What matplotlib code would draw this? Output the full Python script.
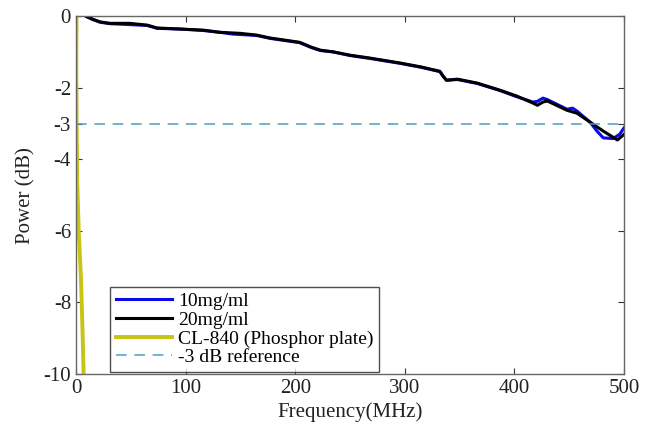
import matplotlib
matplotlib.use("Agg")
import matplotlib.pyplot as plt

# 20 mg/ml (black)
f20 = [9, 15, 22, 31, 49, 65, 74, 95, 116, 131, 150, 165, 177, 204, 215, 223, 235,
       250, 268, 296, 315, 332, 335, 338, 348, 366, 387, 402, 417, 421, 426, 430,
       448, 457, 469, 481, 494, 500]
p20 = [0, -0.08, -0.16, -0.2, -0.2, -0.25, -0.33, -0.36, -0.39, -0.45, -0.48, -0.53,
       -0.61, -0.73, -0.87, -0.95, -1.0, -1.09, -1.17, -1.31, -1.42, -1.54, -1.68,
       -1.79, -1.76, -1.87, -2.07, -2.23, -2.43, -2.49, -2.4, -2.37, -2.63, -2.71,
       -2.96, -3.21, -3.46, -3.3]

# 10 mg/ml (blue)
f10 = [10, 15, 22, 31, 45, 65, 74, 95, 116, 131, 143, 165, 177, 204, 215, 223, 235,
       250, 268, 296, 315, 332, 335, 338, 348, 366, 387, 402, 417, 421, 426, 430,
       448, 453, 457, 469, 475, 481, 490, 496, 500]
p10 = [-0.02, -0.09, -0.17, -0.21, -0.23, -0.26, -0.34, -0.36, -0.4, -0.45, -0.5, -0.54,
       -0.62, -0.74, -0.88, -0.96, -1.0, -1.1, -1.18, -1.32, -1.43, -1.55, -1.68,
       -1.79, -1.77, -1.88, -2.08, -2.25, -2.4, -2.38, -2.29, -2.33, -2.6, -2.57,
       -2.65, -2.96, -3.2, -3.4, -3.42, -3.3, -3.12]

# CL-840 (Phosphor plate) (yellow)
fcl = [0.5, 0.3, 0.6, 1.2, 2.5, 4.5, 6.0, 7.0]
pcl = [0, -1.5, -3, -4.7, -6, -7.3, -8.8, -10]

ref_level = -3
xlim = [0, 500]
ylim = [-10, 0]
yticks = [0, -2, -3, -4, -6, -8, -10]
xticks = [0, 100, 200, 300, 400, 500]

plt.rcParams['font.family'] = ['Liberation Serif', 'DejaVu Serif']
plt.rcParams['axes.unicode_minus'] = False

fig = plt.figure(figsize=(6.46, 4.37), dpi=100)
ax = fig.add_axes([0.1176, 0.144, 0.966 - 0.1176, 0.963 - 0.144])

ax.plot(f10, p10, color='#0a0ae6', lw=2.2, label='10mg/ml')
ax.plot(f20, p20, color='black', lw=2.2, label='20mg/ml')
ax.plot(fcl, pcl, color='#c8c414', lw=2.8, label='CL-840 (Phosphor plate)')
ax.plot(xlim, [ref_level, ref_level], color='#4f9cc6', lw=1.1, ls=(0, (7, 5)),
        label='-3 dB reference')

ax.set_xlim(xlim)
ax.set_ylim(ylim)
ax.set_xticks(xticks)
ax.set_yticks(yticks)
ax.tick_params(direction='in', top=True, right=True, labelsize=15, length=4,
               color='#333333', width=0.8, labelcolor='#222222')
for s in ax.spines.values():
    s.set_color('#666666')
    s.set_linewidth(1.0)

ax.set_xlabel('Frequency(MHz)', fontsize=15, color='#222222', labelpad=3)
ax.set_ylabel('Power (dB)', fontsize=15, color='#222222', labelpad=6)

leg = ax.legend(loc='lower left', bbox_to_anchor=(0.062, 0.006), fontsize=14,
                frameon=True, fancybox=False, edgecolor='#222222',
                labelspacing=0.05, handlelength=2.9, handletextpad=0.3,
                borderpad=0.3, borderaxespad=0)
leg.get_frame().set_linewidth(1.0)

fig.savefig('out.png', dpi=100)
